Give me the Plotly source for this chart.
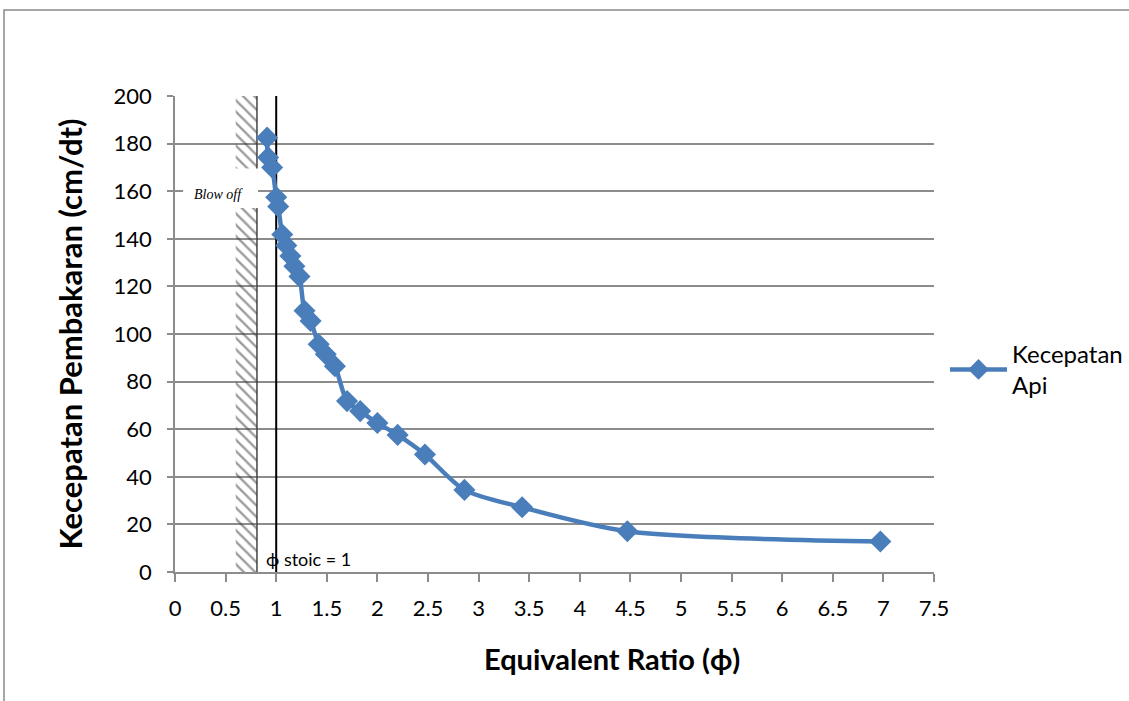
import plotly.graph_objects as go

phi = [0.91, 0.92, 0.96, 1.00, 1.02, 1.06, 1.10, 1.14, 1.18, 1.23, 1.28, 1.34, 1.42, 1.49, 1.58,
       1.70, 1.83, 2.00, 2.20, 2.47, 2.86, 3.43, 4.47, 6.97]
speed = [182.5, 174.2, 170.0, 157.5, 153.6, 141.8, 137.2, 132.8, 128.5, 124.2, 109.8, 105.5, 95.7, 91.5, 86.5,
         71.8, 67.6, 62.6, 57.6, 49.4, 34.5, 27.2, 17.1, 12.8]

series_name = "Kecepatan<br>Api"
x_ticks = [0, 0.5, 1, 1.5, 2, 2.5, 3, 3.5, 4, 4.5, 5, 5.5, 6, 6.5, 7, 7.5]
x_tick_text = ["0", "0.5", "1", "1.5", "2", "2.5", "3", "3.5", "4", "4.5", "5", "5.5", "6", "6.5", "7", "7.5"]
y_ticks = [0, 20, 40, 60, 80, 100, 120, 140, 160, 180, 200]
blow_off = [0.6, 0.81]
label_box_x = [0.08, 0.82]
label_box_y = [152.9, 169.5]
phi_stoic = 1.0

BLUE = "#4a7ebb"
GRID = "#8c8c8c"
FONT = "Lato"

fig = go.Figure()

# hatched blow-off region (split around the label box)
for y0, y1 in [(0, label_box_y[0]), (label_box_y[1], 200)]:
    fig.add_trace(go.Scatter(
        x=[blow_off[0], blow_off[1], blow_off[1], blow_off[0], blow_off[0]],
        y=[y0, y0, y1, y1, y0],
        mode="lines", line=dict(width=0), fill="toself",
        fillcolor="rgba(255,255,255,0)",
        fillpattern=dict(shape="\\", fgcolor="#3a3a3a", bgcolor="rgba(255,255,255,0)", size=8, solidity=0.3),
        showlegend=False, hoverinfo="skip"))

fig.add_trace(go.Scatter(
    x=phi, y=speed, mode="lines+markers", name=series_name,
    line=dict(color=BLUE, width=4.5, shape="spline", smoothing=0.8),
    marker=dict(symbol="diamond", size=17, color=BLUE)))

fig.add_shape(type="line", x0=blow_off[1], x1=blow_off[1], y0=0, y1=200,
              line=dict(color="#444444", width=1.5), layer="between")
fig.add_shape(type="rect", x0=label_box_x[0], x1=label_box_x[1], y0=label_box_y[0], y1=label_box_y[1],
              line=dict(width=0), fillcolor="white", layer="between")
fig.add_shape(type="line", x0=phi_stoic, x1=phi_stoic, y0=0, y1=200,
              line=dict(color="#000000", width=2), layer="between")

# outer chart border
fig.add_shape(type="rect", xref="paper", yref="paper",
              x0=(4 - 175) / 759, x1=(1140 - 175) / 759,
              y0=(572 - 720) / 476, y1=(572 - 10) / 476,
              line=dict(color="#8a8a8a", width=1.5), fillcolor="rgba(0,0,0,0)", layer="below")

fig.add_annotation(x=0.17, y=158.5, xanchor="left", yanchor="middle",
                   text="<i>Blow off</i>", showarrow=False,
                   font=dict(family="Liberation Serif", size=14, color="black"))
fig.add_annotation(x=0.88, y=5.5, xanchor="left", yanchor="middle",
                   text="ϕ stoic = 1", showarrow=False,
                   font=dict(family=FONT, size=18, color="black"))
# x axis title (offset to the right as in the original)
fig.add_annotation(x=(612 - 175) / 759, y=(572 - 658) / 476, xref="paper", yref="paper",
                   xanchor="center", yanchor="middle", showarrow=False,
                   text="<b>Equivalent Ratio (ϕ)</b>", font=dict(family=FONT, size=29, color="black"))

fig.update_layout(
    width=1129, height=701,
    margin=dict(l=175, r=195, t=96, b=129, autoexpand=False),
    paper_bgcolor="white", plot_bgcolor="white",
    font=dict(family=FONT, size=22, color="black"),
    legend=dict(x=(945 - 175) / 759, y=0.425, xanchor="left", yanchor="middle",
                font=dict(family=FONT, size=24), itemwidth=57, bgcolor="rgba(0,0,0,0)"),
    xaxis=dict(range=[0, 7.5], tickvals=x_ticks, ticktext=x_tick_text,
               showgrid=False, zeroline=False, showline=True, linecolor=GRID, linewidth=1.5,
               ticks="outside", ticklen=8, tickcolor=GRID, tickwidth=1.5, ticklabelstandoff=8),
    yaxis=dict(range=[0, 200], tickvals=y_ticks,
               showgrid=True, gridcolor=GRID, gridwidth=1.5, zeroline=False,
               showline=True, linecolor=GRID, linewidth=1.5,
               ticks="outside", ticklen=6, tickcolor=GRID, tickwidth=1.5, ticklabelstandoff=11,
               title=dict(text="<b>Kecepatan Pembakaran (cm/dt)</b>", standoff=22, font=dict(size=31))),
)

fig.write_html("out.html")
